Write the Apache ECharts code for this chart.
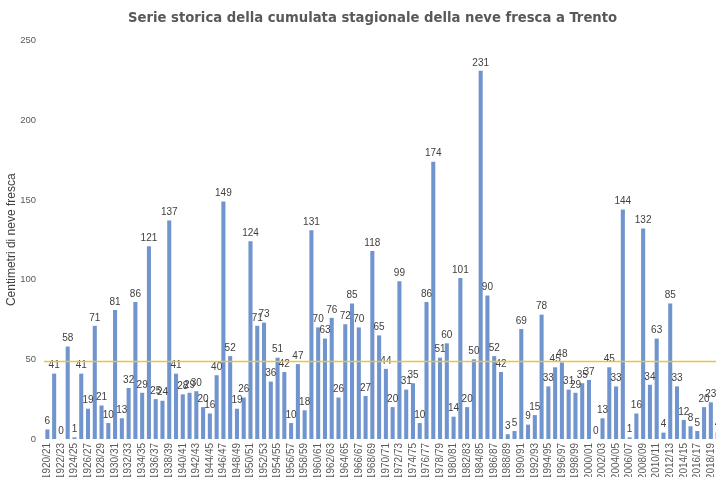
<!DOCTYPE html>
<html><head><meta charset="utf-8">
<script src="https://cdn.jsdelivr.net/npm/echarts@6/dist/echarts.min.js"></script>
<style>html,body{margin:0;padding:0;background:#fff}#c{width:716px;height:477px}</style>
</head><body><div id="c"></div>
<script>
const startYears = [];
for (let y = 1920; y <= 2019; y++) startYears.push(y);
const categories = startYears.map(y => y + '/' + String((y + 1) % 100).padStart(2, '0'));
const snowCm = [
  6, 41, 0, 58, 1, 41, 19, 71, 21, 10,
  81, 13, 32, 86, 29, 121, 25, 24, 137, 41,
  28, 29, 30, 20, 16, 40, 149, 52, 19, 26,
  124, 71, 73, 36, 51, 42, 10, 47, 18, 131,
  70, 63, 76, 26, 72, 85, 70, 27, 118, 65,
  44, 20, 99, 31, 35, 10, 86, 174, 51, 60,
  14, 101, 20, 50, 231, 90, 52, 42, 3, 5,
  69, 9, 15, 78, 33, 45, 48, 31, 29, 35,
  37, 0, 13, 45, 33, 144, 1, 16, 132, 34,
  63, 4, 85, 33, 12, 8, 5, 20, 23, 4
];
const yTicks = [0, 50, 100, 150, 200, 250];

const chart = echarts.init(document.getElementById('c'), null, {renderer: 'canvas'});
chart.setOption({
  animation: false,
  backgroundColor: '#ffffff',
  title: {
    text: 'Serie storica della cumulata stagionale della neve fresca a Trento',
    left: 123, top: 6,
    textStyle: {fontFamily: 'DejaVu Sans Condensed', fontSize: 14.7, fontWeight: 'bold', color: '#595959'}
  },
  grid: {left: 44, width: 677, top: 40.5, bottom: 38, containLabel: false, outerBoundsMode: 'none'},
  xAxis: {
    type: 'category', data: categories,
    axisLine: {show: false}, axisTick: {show: false},
    axisLabel: {rotate: 90, interval: 1, fontSize: 10, color: '#595959', fontFamily: 'Liberation Sans', margin: 4}
  },
  yAxis: {
    type: 'value', min: yTicks[0], max: yTicks[yTicks.length - 1], interval: 50,
    name: 'Centimetri di neve fresca', nameLocation: 'middle', nameGap: 26, nameMoveOverlap: false,
    nameTextStyle: {fontSize: 12, color: '#404040', fontFamily: 'Liberation Sans'},
    splitLine: {show: false}, axisLine: {show: false}, axisTick: {show: false},
    axisLabel: {fontSize: 9.5, color: '#595959', fontFamily: 'Liberation Sans', margin: 8}
  },
  series: [{
    type: 'bar', data: snowCm, barCategoryGap: '40%', z: 2,
    itemStyle: {color: '#7094cd'},
    label: {show: true, position: 'top', distance: 3, fontSize: 10, color: '#404040', fontFamily: 'Liberation Sans'},
    markLine: {
      silent: true, symbol: ['none', 'none'], label: {show: false}, z: 5,
      lineStyle: {color: '#e6c542', width: 1.3, type: 'solid', opacity: 1},
      data: [{type: 'average', name: 'media'}]
    }
  }]
});
</script></body></html>
